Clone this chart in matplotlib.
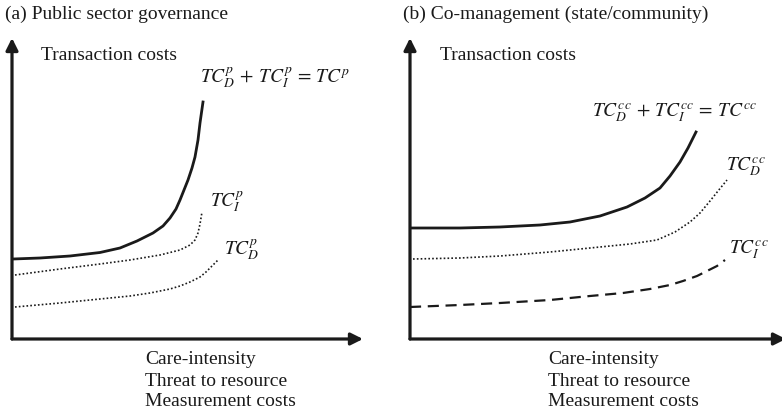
import matplotlib
matplotlib.use("Agg")
import matplotlib.pyplot as plt

plt.rcParams['font.family'] = ['Liberation Serif', 'DejaVu Serif']
plt.rcParams['mathtext.fontset'] = 'stix'

W, H = 782, 416

# ---- data (in pixel-like units) ----
# Panel (a): Public sector governance
a_total_x = [13, 40, 70, 100, 120, 137, 153, 163, 170, 176, 180, 184, 188, 192, 195, 198, 200, 203]
a_total_y = [259, 258, 256, 252.5, 248, 241, 233, 226, 218, 209, 200, 190, 180, 168, 157, 140, 123, 102]
a_tci_x = [15, 60, 100, 130, 160, 180, 190, 195, 198, 200, 202]
a_tci_y = [275, 269, 264, 260, 255, 250, 245, 240, 233, 224, 212]
a_tcd_x = [15, 60, 100, 130, 150, 170, 180, 190, 200, 206, 212, 218]
a_tcd_y = [307, 303, 299, 296, 293, 289, 286, 282, 277, 272, 266, 260]

# Panel (b): Co-management (state/community)
b_total_x = [410, 460, 500, 540, 570, 600, 627, 645, 660, 670, 680, 688, 696]
b_total_y = [228, 228, 227, 225, 222, 216, 207, 198, 188, 176, 162, 148, 132]
b_tcd_x = [413, 460, 500, 550, 590, 630, 657, 675, 690, 700, 710, 718, 727]
b_tcd_y = [259, 258, 256, 252, 248, 244, 240, 232, 222, 213, 201, 191, 180]
b_tci_x = [410, 460, 500, 550, 590, 623, 650, 670, 683, 697, 707, 717, 725]
b_tci_y = [307, 305, 303, 300, 296, 293, 289, 285, 281, 276, 271, 266, 260]

titles = ["(a) Public sector governance", "(b) Co-management (state/community)"]
ylabel = "Transaction costs"
xlabel_lines = ["Care-intensity", "Threat to resource", "Measurement costs"]

fig = plt.figure(figsize=(W / 100, H / 100), dpi=100)

def make_axes(x0, x1, ytop, ybot):
    ax = fig.add_axes([x0 / W, 1 - ybot / H, (x1 - x0) / W, (ybot - ytop) / H])
    ax.set_xlim(x0, x1)
    ax.set_ylim(ybot, ytop)
    ax.axis('off')
    for end in [(0, 1), (1, 0)]:
        ax.annotate('', xy=end, xytext=(0, 0), xycoords='axes fraction',
                    arrowprops=dict(arrowstyle='-|>', lw=2.3, color='#1a1a1a',
                                    mutation_scale=18, shrinkA=0, shrinkB=0),
                    annotation_clip=False)
    return ax

axa = make_axes(12, 363, 38, 339)
axb = make_axes(410, 786, 38, 339)

c = '#1a1a1a'
axa.plot(a_total_x, a_total_y, color=c, lw=2.0, solid_joinstyle='round')
axa.plot(a_tci_x, a_tci_y, color=c, lw=1.2, ls=(0, (1, 1.3)))
axa.plot(a_tcd_x, a_tcd_y, color=c, lw=1.2, ls=(0, (1, 1.3)))

axb.plot(b_total_x, b_total_y, color=c, lw=2.0, solid_joinstyle='round')
axb.plot(b_tcd_x, b_tcd_y, color=c, lw=1.2, ls=(0, (1, 1.3)))
axb.plot(b_tci_x, b_tci_y, color=c, lw=1.6, ls=(0, (5, 3)))

fs = 14
fig.text(5 / W, 1 - 14 / H, titles[0], fontsize=fs, va='center', ha='left', color=c)
fig.text(403 / W, 1 - 14 / H, titles[1], fontsize=fs, va='center', ha='left', color=c)
axa.text(41, 55, ylabel, fontsize=fs, va='center', ha='left', color=c)
axb.text(440, 55, ylabel, fontsize=fs, va='center', ha='left', color=c)
for i, line in enumerate(xlabel_lines):
    axa.text(145, 360 + i * 21, line, fontsize=fs, va='center', ha='left', color=c, clip_on=False)
    axb.text(548, 360 + i * 21, line, fontsize=fs, va='center', ha='left', color=c, clip_on=False)

axa.text(200, 78, r'$TC_D^p\,+\,TC_I^p\,=\,TC^p$', fontsize=fs, va='center', ha='left', color=c)
axa.text(210, 202, r'$TC_I^p$', fontsize=fs, va='center', ha='left', color=c)
axa.text(224, 250, r'$TC_D^p$', fontsize=fs, va='center', ha='left', color=c)

axb.text(592, 113, r'$TC_D^{cc}\,+\,TC_I^{cc}\,=\,TC^{cc}$', fontsize=fs, va='center', ha='left', color=c)
axb.text(726, 167, r'$TC_D^{cc}$', fontsize=fs, va='center', ha='left', color=c)
axb.text(729, 250, r'$TC_I^{cc}$', fontsize=fs, va='center', ha='left', color=c)

fig.savefig('out.png', dpi=100)
